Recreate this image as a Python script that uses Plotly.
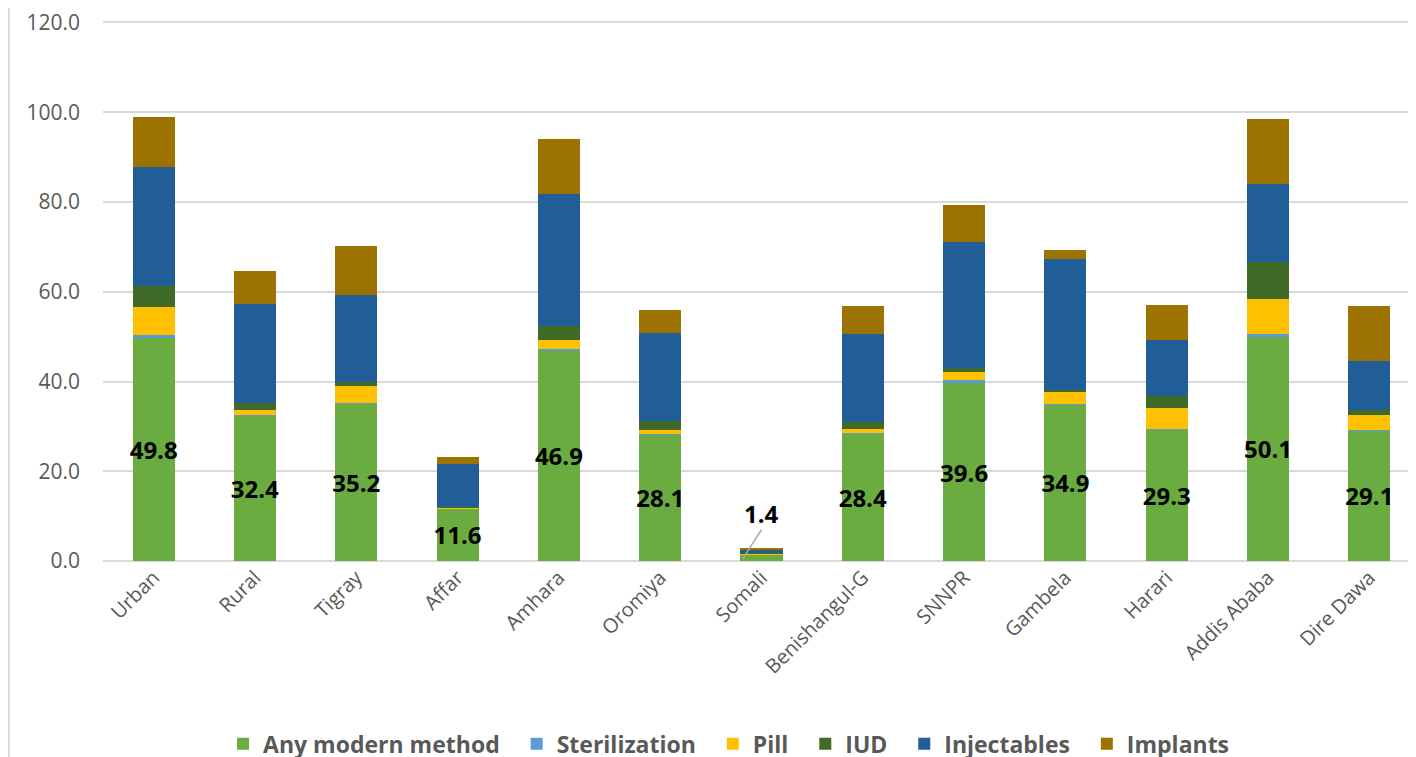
import plotly.graph_objects as go

categories = ["Urban", "Rural", "Tigray", "Affar", "Amhara", "Oromiya", "Somali",
              "Benishangul-G", "SNNPR", "Gambela", "Harari", "Addis Ababa", "Dire Dawa"]
any_modern = [49.8, 32.4, 35.2, 11.6, 46.9, 28.1, 1.4, 28.4, 39.6, 34.9, 29.3, 50.1, 29.1]
sterilization = [0.5, 0.2, 0.1, 0.0, 0.4, 0.2, 0.0, 0.2, 0.8, 0.1, 0.1, 0.4, 0.1]
pill = [6.3, 1.0, 3.7, 0.3, 1.9, 1.0, 0.2, 0.8, 1.7, 2.7, 4.7, 7.8, 3.3]
iud = [4.6, 1.5, 0.9, 0.1, 3.1, 1.8, 0.1, 1.5, 1.0, 0.3, 2.6, 8.4, 1.2]
injectables = [26.5, 22.1, 19.3, 9.7, 29.5, 19.6, 0.9, 19.6, 28.0, 29.2, 12.5, 17.4, 10.9]
implants = [11.2, 7.5, 11.0, 1.5, 12.2, 5.3, 0.2, 6.4, 8.2, 2.1, 7.8, 14.5, 12.3]
y_ticks = [0, 20, 40, 60, 80, 100, 120]

series = [
    ("Any modern method", any_modern, "#6aac3f"),
    ("Sterilization", sterilization, "#5b9bd5"),
    ("Pill", pill, "#ffc000"),
    ("IUD", iud, "#3f6a27"),
    ("Injectables", injectables, "#215d96"),
    ("Implants", implants, "#9c7200"),
]

FONT = "'Open Sans', sans-serif"
PAD = "\u00a0\u00a0"
fig = go.Figure()
for i, (name, vals, col) in enumerate(series):
    kw = {}
    if name == "Any modern method":
        kw = dict(
            text=[f"{v:.1f}" if c != "Somali" else "" for c, v in zip(categories, vals)],
            textposition="inside", insidetextanchor="middle", textangle=0,
            constraintext="none",
            textfont=dict(family=FONT, size=24, color="black", weight="bold"),
        )
    label = name + (PAD if i < len(series) - 1 else "")
    fig.add_trace(go.Bar(name=label, x=categories, y=vals,
                         marker=dict(color=col, line=dict(width=0)),
                         hoverinfo="skip", **kw))

# Somali label with leader line
si = categories.index("Somali")
fig.add_annotation(x=categories[si], y=10.6, text="<b>1.4</b>", showarrow=False,
                   font=dict(family=FONT, size=24, color="black"))
fig.add_shape(type="line", xref="x", yref="y", x0=si - 0.19, y0=0.3, x1=si + 0.0, y1=7.0,
              line=dict(color="#a6a6a6", width=1.5))

# left border line
fig.add_shape(type="line", xref="paper", yref="paper", x0=-0.0715, x1=-0.0715, y0=-0.45, y1=1.1,
              line=dict(color="#d9d9d9", width=2))

fig.update_layout(
    barmode="stack",
    bargap=0.585,
    width=1416, height=757,
    margin=dict(l=95, r=4, t=10, b=204, autoexpand=False),
    plot_bgcolor="white", paper_bgcolor="white",
    font=dict(family=FONT, color="#595959"),
    legend=dict(orientation="h", x=0.475, xanchor="center", y=-0.3366, yanchor="middle",
                font=dict(family=FONT, size=23, color="#595959", weight="bold"),
                traceorder="normal", itemwidth=30),
    xaxis=dict(tickangle=-45, tickfont=dict(size=20, color="#595959"), showline=False,
               ticks="", showgrid=False, automargin=False),
    yaxis=dict(range=[0, 121], tickvals=y_ticks, tickformat=".1f",
               tickfont=dict(size=21, color="#595959"), gridcolor="#d9d9d9", gridwidth=2,
               showline=False, zeroline=True, zerolinecolor="#d9d9d9", zerolinewidth=2,
               ticks="", ticklen=0, automargin=False, ticklabelstandoff=22,
               ticklabeloverflow="allow"),
    showlegend=True,
)

fig.write_html("out.html")
